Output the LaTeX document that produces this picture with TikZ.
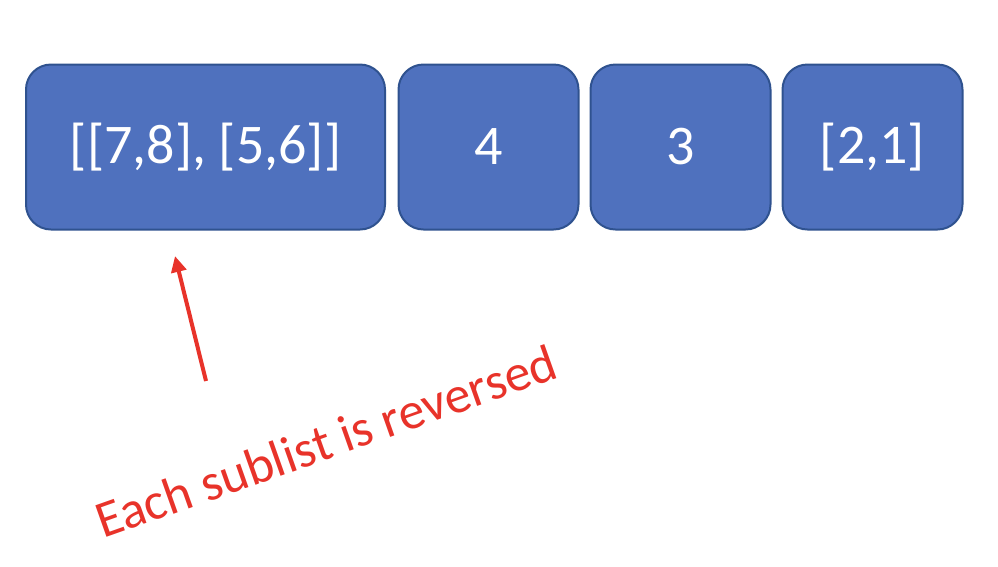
\documentclass[tikz,border=0pt]{standalone}
\usepackage{fontspec}
\setmainfont{Carlito}
\usetikzlibrary{arrows.meta}
\definecolor{boxfill}{HTML}{4F71BE}
\definecolor{boxline}{HTML}{2F528F}
\definecolor{annred}{HTML}{E8332A}
\tikzset{
  listbox/.style={draw=boxline, line width=2pt, fill=boxfill, rounded corners=25pt,
    minimum height=165pt, text=white, font=\fontsize{56}{60}\selectfont, inner sep=0pt},
  anntext/.style={text=annred, font=\fontsize{52}{56}\selectfont, inner sep=0pt},
  annarrow/.style={draw=annred, line width=4pt, -{Triangle[length=16pt,width=15pt]}}
}
\begin{document}
\begin{tikzpicture}[x=1pt,y=-1pt]
\useasboundingbox (0,0) rectangle (998,566);
\node[listbox, minimum width=359pt] (b1) at (205.5,147) {[[7,8], [5,6]]};
\node[listbox, minimum width=180pt] (b2) at (488.5,147) {4};
\node[listbox, minimum width=180pt] (b3) at (680.5,147) {3};
\node[listbox, minimum width=180pt] (b4) at (872.5,147) {[2,1]};
\node[anntext, anchor=base west, rotate=19.5] (lab) at (103,539) {Each sublist is reversed};
\coordinate (tail) at (206,381);
\coordinate (tip) at (175,256);
\draw[annarrow] (tail) -- (tip);
\end{tikzpicture}
\end{document}
